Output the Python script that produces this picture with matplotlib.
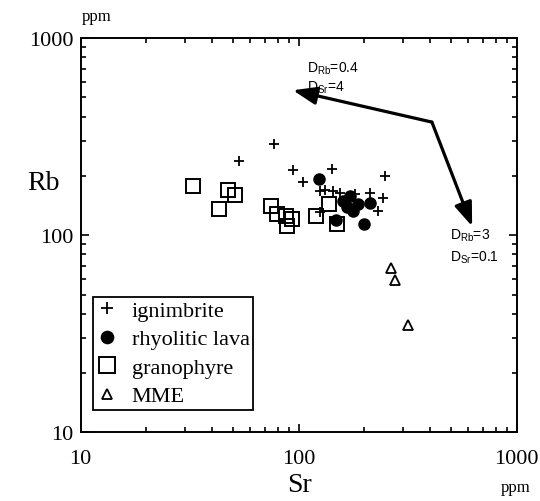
import matplotlib
matplotlib.use("Agg")
import matplotlib.pyplot as plt
from matplotlib.ticker import LogLocator, NullFormatter, FixedFormatter, FixedLocator

# Sr (x) and Rb (y) in ppm
ign_sr = [53, 77, 94, 105, 142, 249, 125, 132, 144, 155, 181, 212, 244, 231, 125]
ign_rb = [238, 290, 214, 186, 216, 200, 168, 169, 168, 164, 162, 164, 154, 132, 131]

lava_sr = [124, 160, 172, 187, 178, 167, 212, 148, 199]
lava_rb = [193, 149, 158, 144, 132, 139, 146, 119, 114]

gran_sr = [32.7, 47.4, 51.1, 43.1, 74.6, 79.4, 87.5, 93.2, 88.3, 120, 138, 150]
gran_rb = [177, 169, 160, 136, 141, 128, 125, 121, 111, 125, 144, 114]

mme_sr = [265, 277, 317]
mme_rb = [68, 59, 35]

# fractionation vectors (start, end)
vec_start = (408, 375)
vec1_end = (94, 544)
vec2_end = (624, 111)

plt.rcParams['font.family'] = ['Liberation Serif', 'DejaVu Serif']

fig = plt.figure(figsize=(5.4, 5.02), dpi=100)
ax = fig.add_axes([0.1495, 0.137, 0.8075, 0.785])

ax.plot(ign_sr, ign_rb, ls='none', marker='+', ms=7.5, mew=1.3, color='black', label='ignimbrite')
ax.plot(lava_sr, lava_rb, ls='none', marker='o', ms=8, color='black', label='rhyolitic lava')
ax.plot(gran_sr, gran_rb, ls='none', marker='s', ms=10, mfc='none', mec='black', mew=1.4,
        label='granophyre')
ax.plot(mme_sr, mme_rb, ls='none', marker='^', ms=7, mfc='none', mec='black', mew=1.3,
        label='MME')

arrow_kw = dict(arrowstyle='-|>,head_length=0.8,head_width=0.3', lw=2.3, color='black',
                mutation_scale=18, shrinkA=0, shrinkB=0)
ax.annotate('', xy=vec1_end, xytext=vec_start, arrowprops=arrow_kw)
ax.annotate('', xy=vec2_end, xytext=vec_start, arrowprops=arrow_kw)

sans = ['Liberation Sans', 'DejaVu Sans']
ax.text(109, 705, r'D$_\mathregular{Rb}$=0.4', family=sans, fontsize=10, va='center')
ax.text(109, 565, r'D$_\mathregular{Sr}$=4', family=sans, fontsize=10, va='center')
ax.text(494, 101, r'D$_\mathregular{Rb}$=3', family=sans, fontsize=10, va='center')
ax.text(494, 78, r'D$_\mathregular{Sr}$=0.1', family=sans, fontsize=10, va='center')

ax.set_xscale('log')
ax.set_yscale('log')
ax.set_xlim(10, 1000)
ax.set_ylim(10, 1000)

ax.xaxis.set_major_locator(FixedLocator([10, 100, 1000]))
ax.xaxis.set_major_formatter(FixedFormatter(['10', '100', '1000']))
ax.yaxis.set_major_locator(FixedLocator([10, 100, 1000]))
ax.yaxis.set_major_formatter(FixedFormatter(['10', '100', '1000']))
for a in (ax.xaxis, ax.yaxis):
    a.set_minor_locator(LogLocator(base=10, subs=range(2, 10)))
    a.set_minor_formatter(NullFormatter())

ax.tick_params(which='both', direction='in', top=True, right=True, width=1.2, labelsize=16)
ax.tick_params(which='major', length=6)
ax.tick_params(which='minor', length=3.5)
ax.tick_params(axis='x', pad=12)
ax.tick_params(axis='y', pad=5)
for s in ax.spines.values():
    s.set_linewidth(1.4)

fig.text(0.081, 0.635, 'Rb', fontsize=20, ha='center', va='center')
fig.text(0.555, 0.032, 'Sr', fontsize=20, ha='center', va='center')
fig.text(0.152, 0.966, 'ppm', fontsize=12, ha='left', va='center')
fig.text(0.982, 0.028, 'ppm', fontsize=12, ha='right', va='center')

leg = ax.legend(loc='lower left', bbox_to_anchor=(0.028, 0.057), borderaxespad=0,
                fontsize=16, fancybox=False, edgecolor='black', framealpha=1,
                handlelength=1.0, handletextpad=0.6, borderpad=0.15, labelspacing=0.36,
                numpoints=1, markerscale=1.1)
leg.get_frame().set_linewidth(1.3)

fig.savefig('out.png', dpi=100)
